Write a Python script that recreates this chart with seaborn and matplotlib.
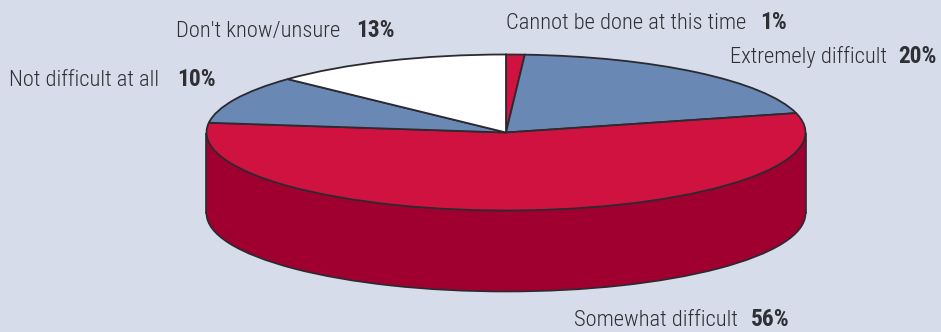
import matplotlib
matplotlib.use("Agg")
import matplotlib.pyplot as plt
import seaborn as sns

categories = ["Cannot be done at this time", "Extremely difficult", "Somewhat difficult",
              "Not difficult at all", "Don't know/unsure"]
shares = [1, 20, 56, 10, 13]

BG = "#D6DCEA"
RED = "#D01240"
DARK_RED = "#A0002F"
BLUE = "#6A88B4"
WHITE = "#FFFFFF"
EDGE = "#2A2A30"
TEXT = "#2F2F34"
W, H = 941, 332
CX, CY, RX, RY, DEPTH = 506, 132.5, 299.5, 78, 81

sns.set_theme(style="white", rc={"figure.facecolor": BG, "axes.facecolor": BG})
plt.rcParams["font.family"] = ["Roboto Condensed", "Liberation Sans"]

fig = plt.figure(figsize=(W / 100, H / 100), dpi=100)
ax = fig.add_axes([0, 0, 1, 1])

# Side wall of the disc: a lower copy of the ellipse joined to the top by a rectangle
drop = DEPTH / RY
ax.pie([sum(shares)], colors=[DARK_RED], center=(0, -drop), radius=1,
       wedgeprops=dict(edgecolor=EDGE, linewidth=1.2, zorder=2))
ax.bar(0, drop, width=2, bottom=-drop, color=DARK_RED, linewidth=0, zorder=2.5)
ax.vlines([-1, 1], -drop, 0, color=EDGE, linewidth=1.2, zorder=3)

# Top face, clockwise from twelve o'clock
ax.pie(shares, colors=[RED, BLUE, RED, BLUE, WHITE], startangle=90, counterclock=False,
       radius=1, wedgeprops=dict(edgecolor=EDGE, linewidth=1.3, zorder=4))

ax.set_aspect("auto")
ax.set_xlim(-CX / RX, (W - CX) / RX)
ax.set_ylim((CY - H) / RY, CY / RY)
ax.axis("off")

# Callouts: name in light weight, share in bold
name_x = [506, 730, 574, 9, 176]
share_x = [760, 898, 751, 177, 356]
baseline = [29, 63, 326, 86, 37]
for name, share, nx, sx, by in zip(categories, shares, name_x, share_x, baseline):
    fig.text(nx / W, 1 - by / H, name, fontsize=16.2, color=TEXT, va="baseline", ha="left", fontweight="light")
    fig.text(sx / W, 1 - by / H, f"{share}%", fontsize=16.8, color=TEXT, va="baseline", ha="left", fontweight="bold")

fig.savefig("out.png", dpi=100, facecolor=BG)
